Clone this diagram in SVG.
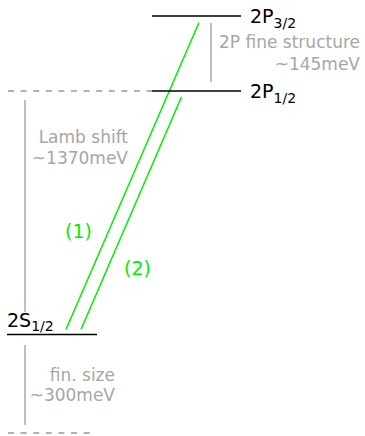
<svg xmlns="http://www.w3.org/2000/svg" width="365" height="436" viewBox="0 0 365 436">
<style>
.lvl{stroke:#000;stroke-width:1.5;fill:none}
.dash{stroke:#999;stroke-width:1.3;stroke-dasharray:6,6.6;fill:none}
.gl{stroke:#aaa;stroke-width:1.5;fill:none}
.gt{font-family:"DejaVu Sans",sans-serif;font-size:17px;fill:#a6a6a6;text-anchor:end}
.lab{font-family:"DejaVu Sans",sans-serif;font-size:19px;fill:#000}
.sub{font-size:14px}
.tr{stroke:#00ee00;stroke-width:1.5;fill:none}
.tl{font-family:"DejaVu Sans",sans-serif;font-size:19px;fill:#00ee00}
</style>
<g id="connectors">
<line class="dash" x1="8" y1="91" x2="152" y2="91"/>
<line class="dash" x1="8" y1="433" x2="92" y2="433"/>
<line class="gl" x1="211" y1="23" x2="211" y2="82"/>
<line class="gl" x1="25" y1="100" x2="25" y2="312"/>
<line class="gl" x1="25" y1="345" x2="25" y2="425"/>
<line class="tr" x1="66" y1="329.5" x2="199" y2="22.5"/>
<line class="tr" x1="81" y1="329.5" x2="181.5" y2="97"/>
</g>
<g id="level-2P32">
<line class="lvl" x1="152" y1="16" x2="241" y2="16"/>
<text class="lab" x="250" y="23">2P<tspan class="sub" dy="5">3/2</tspan></text>
</g>
<g id="level-2P12">
<line class="lvl" x1="152" y1="91" x2="241" y2="91"/>
<text class="lab" x="250" y="98">2P<tspan class="sub" dy="5">1/2</tspan></text>
</g>
<g id="level-2S12">
<line class="lvl" x1="7" y1="334.5" x2="97" y2="334.5"/>
<text class="lab" x="7" y="327">2S<tspan class="sub" dy="4">1/2</tspan></text>
</g>
<g id="fine-structure">
<text class="gt" x="360" y="48">2P fine structure</text>
<text class="gt" x="360" y="70">~145meV</text>
</g>
<g id="lamb-shift">
<text class="gt" x="128" y="143">Lamb shift</text>
<text class="gt" x="128" y="164">~1370meV</text>
</g>
<g id="fin-size">
<text class="gt" x="115" y="381">fin. size</text>
<text class="gt" x="115" y="401">~300meV</text>
</g>
<g id="label-1"><text class="tl" x="65" y="238">(1)</text></g>
<g id="label-2"><text class="tl" x="124" y="275">(2)</text></g>
</svg>
